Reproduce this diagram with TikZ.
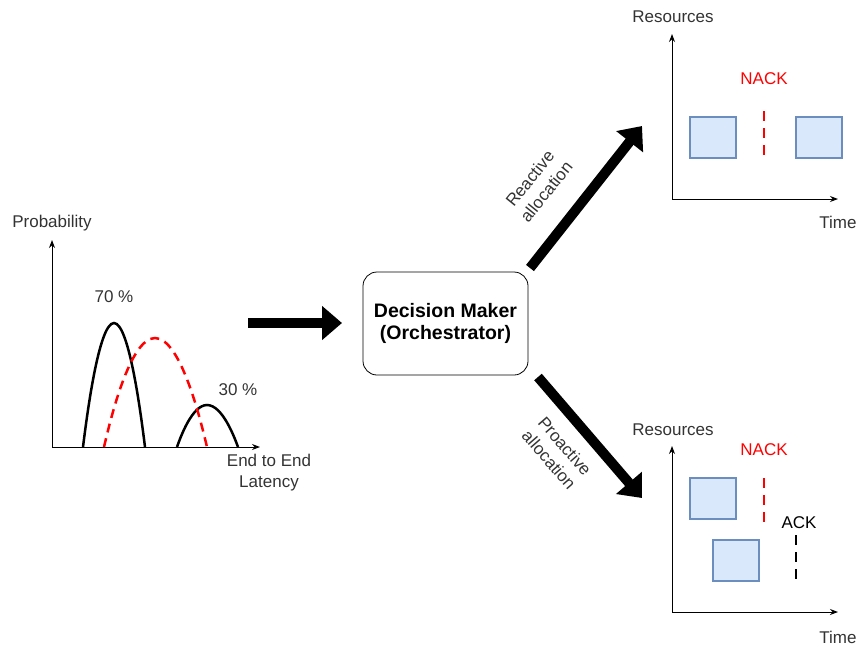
\documentclass[tikz,border=0pt]{standalone}
\usepackage{fontspec}
\setmainfont{Liberation Sans}
\usetikzlibrary{arrows.meta}
\definecolor{txt}{HTML}{333333}
\definecolor{boxfill}{HTML}{DAE8FC}
\definecolor{boxdraw}{HTML}{6C8EBF}
\definecolor{nack}{HTML}{FF0000}
\begin{document}
\begin{tikzpicture}[x=1pt,y=-1pt,
  lbl/.style={text=txt,font=\fontsize{17}{21}\selectfont,inner sep=0pt,align=center},
  axis/.style={line width=1pt,-{Stealth[length=8pt,width=6pt]}},
  bigarrow/.style={line width=10pt,-{Triangle[length=20pt,width=33pt]}},
  res/.style={draw=boxdraw,fill=boxfill,line width=2pt,inner sep=0pt,minimum width=46pt,minimum height=41pt},
  curve/.style={line width=2.5pt},
  dsh/.style={line width=2.5pt,dash pattern=on 9pt off 6pt},
  decision/.style={draw,line width=0.8pt,rounded corners=14pt,minimum width=165pt,minimum height=103pt,align=center,font=\bfseries\fontsize{19.5}{22.5}\selectfont}]
\useasboundingbox (0,0) rectangle (857,649);

% ---------- left chart ----------
\coordinate (po) at (52,447);
\coordinate (py) at (52,240);
\coordinate (px) at (260,447);
\draw[axis] (po) -- (py);
\draw[axis] (po) -- (px);
\node[lbl] (prob) at (52,223) {Probability};
\node[lbl] (p70) at (114,297) {70 \%};
\node[lbl] (p30) at (238,390) {30 \%};
\node[lbl] (lat) at (269,473) {End to End\\Latency};
\draw[curve] (83,447) parabola bend (114,323) (145,447);
\draw[curve] (177,447) parabola bend (207,405) (238,447);
\draw[dsh,nack] (104,447) parabola bend (155,338) (207,447);

% ---------- decision maker ----------
\node[decision] (dm) at (445.5,323.5) {Decision Maker\\(Orchestrator)};
\coordinate (la1) at (248,323);
\coordinate (la2) at (342,323);
\draw[bigarrow] (la1) -- (la2);

\coordinate (ra1) at (530,268);
\coordinate (ra2) at (642,126);
\draw[bigarrow] (ra1) -- (ra2);
\node[lbl,rotate=51] (rlab) at (538,185) {Reactive\\allocation};

\coordinate (pa1) at (538,377);
\coordinate (pa2) at (642,498);
\draw[bigarrow] (pa1) -- (pa2);
\node[lbl,rotate=-49] (plab) at (557,453) {Proactive\\allocation};

% ---------- top right chart ----------
\coordinate (to) at (672,199);
\coordinate (ty) at (672,34);
\coordinate (tx) at (838,199);
\draw[axis] (to) -- (ty);
\draw[axis] (to) -- (tx);
\node[lbl] (tres) at (673,17) {Resources};
\node[lbl] (ttime) at (838,222) {Time};
\node[lbl,text=nack] (tnack) at (764,79) {NACK};
\coordinate (tn1) at (764,111);
\coordinate (tn2) at (764,157);
\draw[dsh,nack,dash pattern=on 10pt off 7pt] (tn1) -- (tn2);
\node[res] (tb1) at (712.5,137) {};
\node[res] (tb2) at (819,137) {};

% ---------- bottom right chart ----------
\coordinate (bo) at (672,612);
\coordinate (by) at (672,446);
\coordinate (bx) at (838,612);
\draw[axis] (bo) -- (by);
\draw[axis] (bo) -- (bx);
\node[lbl] (bres) at (673,430) {Resources};
\node[lbl] (btime) at (838,637) {Time};
\node[lbl,text=nack] (bnack) at (764,450) {NACK};
\coordinate (bn1) at (764,478);
\coordinate (bn2) at (764,524);
\draw[dsh,nack,dash pattern=on 10pt off 7pt] (bn1) -- (bn2);
\node[lbl,text=black] (back) at (799,523) {ACK};
\coordinate (ba1) at (796,535);
\coordinate (ba2) at (796,581);
\draw[dsh,dash pattern=on 10pt off 7pt] (ba1) -- (ba2);
\node[res] (bb1) at (712.5,498) {};
\node[res] (bb2) at (736,560.5) {};
\end{tikzpicture}
\end{document}
